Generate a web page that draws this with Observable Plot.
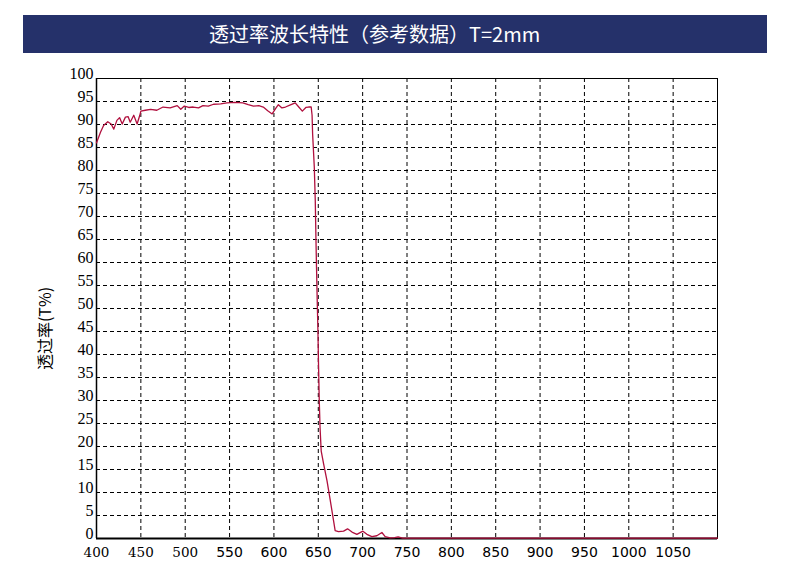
<!DOCTYPE html>
<html>
<head>
<meta charset="utf-8">
<script src="https://cdn.jsdelivr.net/npm/d3@7"></script>
<script src="https://cdn.jsdelivr.net/npm/@observablehq/plot@0.6"></script>
<style>
  html, body { margin: 0; padding: 0; background: #fff; }
  #title {
    margin: 15px 0 0 23px; width: 744px; height: 38px; line-height: 38px;
    background: #25316a; color: #fff; box-sizing: border-box; padding-left: 186px;
    font-family: "Noto Sans CJK SC", "Noto Sans", sans-serif; font-size: 20px;
    white-space: nowrap;
  }
  #chart svg { display: block; }
</style>
</head>
<body>
<div id="title">透过率波长特性（参考数据）T=2mm</div>
<div id="chart"></div>
<script>
const titleText = "透过率波长特性（参考数据）T=2mm";
const yLabel = "透过率(T%)";

const wavelength = [400, 401, 404.5, 408, 412.7, 416.5, 419.5, 423, 426, 429, 432.6, 435.7, 438, 442, 445.8, 448.8, 450, 455, 461, 468, 475, 483, 491, 495, 499, 504, 509, 515, 520, 526, 532, 540, 547, 556, 565, 571, 577, 583, 588, 593, 598, 602, 605, 609, 613, 618, 624, 628, 632, 636, 639, 642, 643, 643.6, 645.5, 646.6, 647.4, 648, 648.8, 649.6, 650.3, 651.1, 652, 653.3, 656, 659.8, 663.5, 667.2, 669, 672.8, 678.5, 683, 688, 693.5, 700.3, 704.8, 710.4, 716, 721.7, 725.4, 731, 736, 740, 745, 750, 800, 900, 1000, 1100];
const transmittance = [86, 86.5, 88.3, 89.8, 90.6, 90.1, 89, 90.9, 91.5, 90.1, 91.6, 91.7, 90.5, 92, 90.1, 92, 92.9, 93.1, 93.3, 93.1, 93.8, 93.6, 94.1, 93.3, 94, 93.7, 93.8, 93.6, 94.1, 94.0, 94.4, 94.5, 94.7, 94.8, 94.7, 94.3, 94, 94.1, 93.8, 93, 92.3, 93.5, 94.3, 93.6, 93.8, 94.2, 94.7, 93.8, 92.9, 93.7, 93.8, 93.8, 92, 88, 80.7, 73.5, 64.8, 59, 51.7, 45.2, 37.5, 30, 24, 19, 16.2, 12.6, 8.3, 3.9, 1.7, 1.5, 1.6, 2.1, 1.4, 0.9, 1.6, 0.9, 0.4, 0.6, 1.3, 0.4, 0.15, 0.2, 0.35, 0.1, 0.1, 0.1, 0.1, 0.1, 0.1];

const xTicksA = [400, 450, 500];
const xTicksB = [550, 600, 650, 700, 750, 800, 850, 900, 950, 1000, 1050];
const xGrid = [450, 500, 550, 600, 650, 700, 750, 800, 850, 900, 950, 1000, 1050];
const yTicks = [0, 5, 10, 15, 20, 25, 30, 35, 40, 45, 50, 55, 60, 65, 70, 75, 80, 85, 90, 95, 100];
const yGrid = [5, 10, 15, 20, 25, 30, 35, 40, 45, 50, 55, 60, 65, 70, 75, 80, 85, 90, 95];

const data = wavelength.map((w, i) => ({w, t: transmittance[i]}));
const fmt = d => String(d);

const chart = Plot.plot({
  width: 790,
  height: 518,
  marginLeft: 96,
  marginRight: 73,
  marginTop: 25,
  marginBottom: 33,
  style: {background: "#fff", color: "#000"},
  x: {domain: [400, 1100]},
  y: {domain: [0, 100]},
  marks: [
    Plot.ruleX(xGrid, {stroke: "#000", strokeWidth: 1, strokeDasharray: "4,3"}),
    Plot.ruleY(yGrid, {stroke: "#000", strokeWidth: 1, strokeDasharray: "4,3"}),
    Plot.frame({stroke: "#000", strokeWidth: 1}),
    Plot.ruleX([400], {stroke: "#000", strokeWidth: 1.5}),
    Plot.ruleY([0], {stroke: "#000", strokeWidth: 2}),
    Plot.line(data, {x: "w", y: "t", stroke: "#b0103e", strokeWidth: 1.3}),
    Plot.axisY({ticks: yTicks, tickSize: 0, tickPadding: 3, label: null, tickFormat: fmt, dy: -5,
      fontFamily: "Liberation Serif, serif", fontSize: 16, fill: "#000"}),
    Plot.axisX({ticks: xTicksA, tickSize: 0, tickPadding: 9, label: null, tickFormat: fmt,
      fontFamily: "DejaVu Serif, serif", fontSize: 13.5, fill: "#000"}),
    Plot.axisX({ticks: xTicksB, tickSize: 0, tickPadding: 9, label: null, tickFormat: fmt,
      fontFamily: "DejaVu Sans, sans-serif", fontSize: 14, fill: "#000"}),
    Plot.text([yLabel], {frameAnchor: "left", textAnchor: "middle", rotate: -90, dx: -51, dy: 20,
      fontFamily: "Noto Sans CJK SC, sans-serif", fontSize: 16, fill: "#000"})
  ]
});
document.getElementById("chart").appendChild(chart);
</script>
</body>
</html>
